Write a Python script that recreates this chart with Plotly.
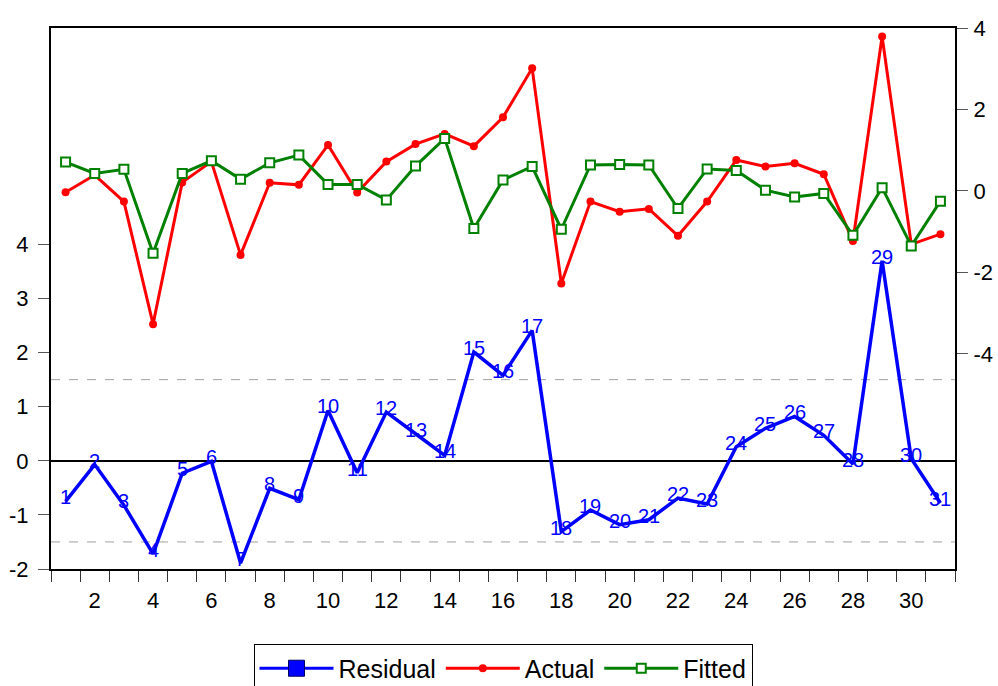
import plotly.graph_objects as go

# Observation index
obs = list(range(1, 32))

# Actual and fitted values (right axis)
actual = [-0.03, 0.39, -0.26, -3.27, 0.21, 0.72, -1.57, 0.20, 0.15, 1.13,
          -0.04, 0.72, 1.15, 1.40, 1.10, 1.81, 3.01, -2.27, -0.26, -0.51,
          -0.44, -1.10, -0.26, 0.76, 0.60, 0.68, 0.41, -1.23, 3.79, -1.31, -1.06]
fitted = [0.71, 0.43, 0.53, -1.53, 0.43, 0.74, 0.29, 0.69, 0.88, 0.16,
          0.16, -0.22, 0.61, 1.29, -0.92, 0.27, 0.60, -0.94, 0.64, 0.65,
          0.64, -0.43, 0.54, 0.50, 0.02, -0.15, -0.06, -1.09, 0.08, -1.35, -0.25]

# Residuals (left axis)
residual = [-0.75, -0.07, -0.82, -1.72, -0.23, -0.01, -1.89, -0.51, -0.72, 0.93,
            -0.22, 0.90, 0.50, 0.10, 2.01, 1.58, 2.41, -1.31, -0.91, -1.18,
            -1.09, -0.69, -0.80, 0.26, 0.60, 0.82, 0.47, -0.06, 3.70, 0.04, -0.78]

# +/- one standard error band for residuals
band = 1.5

x_ticks = list(range(2, 31, 2))
left_ticks = [-2, -1, 0, 1, 2, 3, 4]
right_ticks = [-4, -2, 0, 2, 4]

FONT = "Arial, Liberation Sans, sans-serif"

fig = go.Figure()

fig.add_trace(go.Scatter(
    x=obs, y=residual, mode="lines", name="Residual",
    line=dict(color="#0000FF", width=3.5), showlegend=False, yaxis="y",
))
fig.add_trace(go.Scatter(
    x=obs, y=actual, mode="lines+markers", name="Actual",
    line=dict(color="#FF0000", width=3),
    marker=dict(symbol="circle", size=8, color="#FF0000"),
    yaxis="y2", showlegend=False,
))
fig.add_trace(go.Scatter(
    x=obs, y=fitted, mode="lines+markers", name="Fitted",
    line=dict(color="#008000", width=3),
    marker=dict(symbol="square", size=9, color="white",
                line=dict(color="#008000", width=2)),
    yaxis="y2", showlegend=False,
))

# Legend entries
fig.add_trace(go.Scatter(
    x=[None], y=[None], mode="lines+markers", name="Residual",
    line=dict(color="#0000FF", width=3),
    marker=dict(symbol="square", size=16, color="#0000FF",
                line=dict(color="#000060", width=1)),
))
fig.add_trace(go.Scatter(
    x=[None], y=[None], mode="lines+markers", name="Actual",
    line=dict(color="#FF0000", width=3),
    marker=dict(symbol="circle", size=8, color="#FF0000"),
))
fig.add_trace(go.Scatter(
    x=[None], y=[None], mode="lines+markers", name="Fitted",
    line=dict(color="#008000", width=3),
    marker=dict(symbol="square", size=9, color="white",
                line=dict(color="#008000", width=2)),
))

# Observation numbers on the residual line
for xi, yi in zip(obs, residual):
    fig.add_annotation(
        x=xi, y=yi, xref="x", yref="y", text=str(xi), showarrow=False,
        font=dict(family=FONT, size=20, color="#0000FF"), yshift=4,
    )

# Standard error band
for level in (band, -band):
    fig.add_shape(
        type="line", xref="paper", yref="y", x0=0, x1=1, y0=level, y1=level,
        line=dict(color="#A0A0A0", width=1, dash="dash"), layer="below",
    )

fig.update_layout(
    width=998, height=686,
    margin=dict(l=51, r=43, t=28, b=117, autoexpand=False),
    paper_bgcolor="white", plot_bgcolor="white",
    font=dict(family=FONT, size=22, color="black"),
    xaxis=dict(
        range=[0.5, 31.5], tickvals=x_ticks, ticktext=[str(v) for v in x_ticks],
        ticks="outside", ticklen=11, tickcolor="rgba(0,0,0,0)",
        showline=True, linecolor="black", linewidth=2, mirror=True,
        showgrid=False, zeroline=False,
        minor=dict(ticks="outside", tick0=0.5, dtick=1, ticklen=11,
                   tickcolor="#333333", tickwidth=1, showgrid=False),
        tickfont=dict(size=22),
    ),
    yaxis=dict(
        range=[-2, 8], tickvals=left_ticks, ticktext=[str(v) for v in left_ticks],
        ticks="outside", ticklen=11,
        tickcolor="#555555", tickwidth=1, ticklabelstandoff=5,
        showline=True, linecolor="black", linewidth=2,
        showgrid=False, zeroline=True, zerolinecolor="black", zerolinewidth=1.5,
        tickfont=dict(size=22),
    ),
    yaxis2=dict(
        range=[-9.28, 4], tickvals=right_ticks, ticktext=[str(v) for v in right_ticks],
        ticks="outside", ticklen=11,
        tickcolor="#555555", tickwidth=1, overlaying="y", side="right",
        ticklabelstandoff=1,
        showline=True, linecolor="black", linewidth=2,
        showgrid=False, zeroline=False, tickfont=dict(size=22),
    ),
    legend=dict(
        orientation="h", x=0.5, xanchor="center", y=-0.1395, yanchor="top",
        bordercolor="black", borderwidth=1, bgcolor="white",
        font=dict(family=FONT, size=25), itemwidth=74,
    ),
)

fig.write_html("out.html")
